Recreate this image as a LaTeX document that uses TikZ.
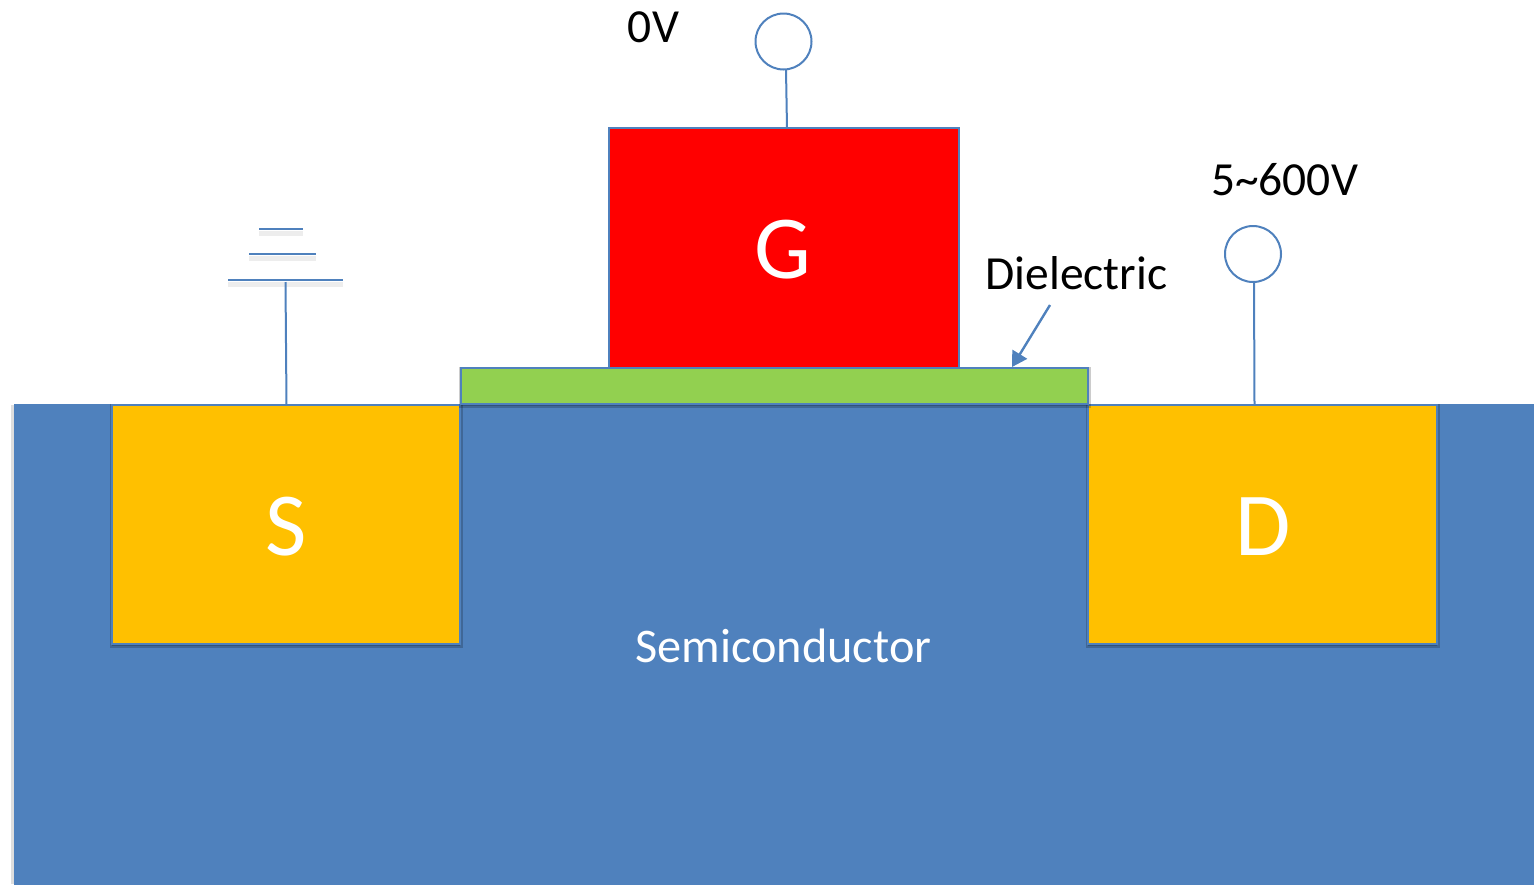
\documentclass[tikz,border=0pt]{standalone}
\usepackage{fontspec}
\setmainfont{Carlito}
\usetikzlibrary{arrows.meta,shadows}
\definecolor{edgeblue}{HTML}{4F81BD}
\definecolor{semi}{HTML}{4F81BD}
\definecolor{gold}{HTML}{FFC000}
\definecolor{leaf}{HTML}{92D050}
\tikzset{
  x=1pt,y=-1pt,
  softshadow/.style={general shadow={shadow xshift=0pt,shadow yshift=-1.5pt,draw=black,line width=5pt,fill=black,opacity=.2}},
  block/.style={draw=edgeblue,line width=2pt,inner sep=0pt,outer sep=0pt,anchor=north west,softshadow},
  wire/.style={draw=edgeblue,line width=2pt},
  terminal/.style={circle,draw=edgeblue,line width=2pt,fill=white,inner sep=0pt,outer sep=0pt,minimum size=56pt},
  groundbar/.style={draw=edgeblue,line width=2pt},
  big/.style={text=white,font=\fontsize{90}{90}\selectfont,inner sep=0pt},
  label/.style={text=black,font=\fontsize{47.5}{47.5}\selectfont,inner sep=0pt},
}
\begin{document}
\begin{tikzpicture}
\useasboundingbox (0,0) rectangle (1534,884);
% substrate
\fill[black,opacity=.13] (11,405) rectangle (14,884);
\begin{scope}
\clip (0,0) rectangle (1534,884);
\node[draw=edgeblue,line width=2pt,inner sep=0pt,outer sep=0pt,anchor=north west,minimum width=1540pt,minimum height=500pt,fill=semi] (sub) at (14.5,404.5) {};
\end{scope}
\node[block,fill=gold,minimum width=348pt,minimum height=239pt] (src) at (112,405) {};
\node[block,fill=gold,minimum width=349pt,minimum height=239pt] (drn) at (1088,405) {};
\node[draw=edgeblue,line width=2pt,inner sep=0pt,outer sep=0pt,anchor=north west,fill=red,minimum width=350pt,minimum height=240pt] (gate) at (609,128) {};
\node[block,fill=leaf,minimum width=627pt,minimum height=36pt] (die) at (461,368) {};
% letters
\node[big] (gl) at (783,250) {G};
\node[big] (sl) at (286,527) {S};
\node[big] (dl) at (1263,527) {D};
\node[text=white,font=\fontsize{48.3}{48.3}\selectfont,inner sep=0pt] (semil) at (783.5,646) {Semiconductor};
\node[label] (diel) at (1076.5,273) {Dielectric};
\node[label] (vg) at (653.5,27) {0V};
\node[label] (vd) at (1284.5,180) {5\textasciitilde 600V};
% terminals
\node[terminal] (tg) at (783.5,41.5) {};
\node[terminal] (td) at (1253,254) {};
\draw[wire] ([xshift=2.5pt]tg.south) -- (787,128) coordinate (gt);
\draw[wire] ([xshift=1pt]td.south) -- (1254.5,405) coordinate (dt);
% ground
\coordinate (g1l) at (259,229); \coordinate (g1r) at (303,229);
\coordinate (g2l) at (249,254); \coordinate (g2r) at (316,254);
\coordinate (g3l) at (228,280); \coordinate (g3r) at (343,280);
\foreach \a/\b in {g1l/g1r,g2l/g2r,g3l/g3r}{
  \draw[black,opacity=.07,line width=5pt] ([yshift=-4pt]\a) -- ([yshift=-4pt]\b);
  \draw[groundbar] (\a) -- (\b);
}
\coordinate (gs) at (286.5,405);
\draw[wire] (285.5,282) coordinate (gtop) -- (gs);
% arrow
\coordinate (da) at (1050,305);
\coordinate (db) at (1012,367);
\draw[wire,line width=2.4pt,-{Triangle[length=15pt,width=17pt]}] (da) -- (db);
\end{tikzpicture}
\end{document}
